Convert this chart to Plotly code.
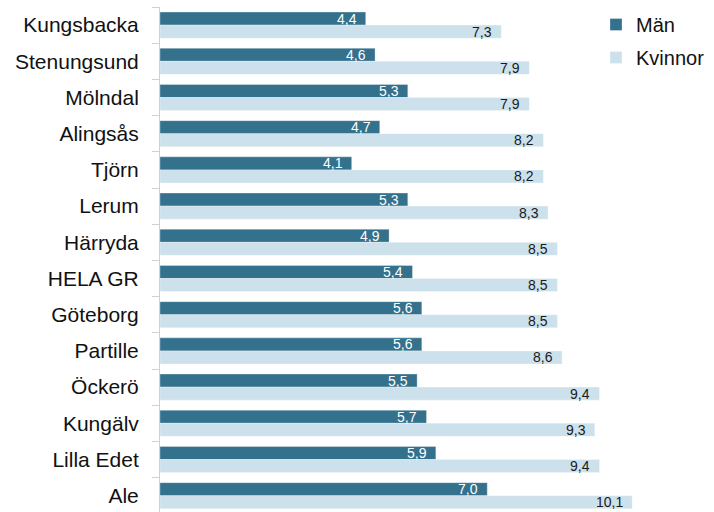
import plotly.graph_objects as go

# Municipalities listed top to bottom
kommuner = ["Kungsbacka", "Stenungsund", "Mölndal", "Alingsås", "Tjörn", "Lerum",
            "Härryda", "HELA GR", "Göteborg", "Partille", "Öckerö", "Kungälv",
            "Lilla Edet", "Ale"]
man = [4.4, 4.6, 5.3, 4.7, 4.1, 5.3, 4.9, 5.4, 5.6, 5.6, 5.5, 5.7, 5.9, 7.0]
kvinnor = [7.3, 7.9, 7.9, 8.2, 8.2, 8.3, 8.5, 8.5, 8.5, 8.6, 9.4, 9.3, 9.4, 10.1]

MAN_COLOR = "#34718D"
KVINNOR_COLOR = "#CCE1EB"
FONT = "Liberation Sans, Arial, sans-serif"


def sv(v):
    return f"{v:.1f}".replace(".", ",")


fig = go.Figure()
fig.add_trace(go.Bar(
    y=kommuner, x=man, orientation="h", name="Män",
    marker=dict(color=MAN_COLOR, line=dict(color="rgba(255,255,255,0.6)", width=0.5)),
    legendgroup="m", hoverinfo="skip",
))
fig.add_trace(go.Bar(
    y=kommuner, x=kvinnor, orientation="h", name="Kvinnor",
    marker=dict(color=KVINNOR_COLOR, line=dict(color="rgba(255,255,255,0.6)", width=0.5)),
    legendgroup="k", hoverinfo="skip",
))

# Value labels just inside the end of each bar
annotations = []
for k, m, w in zip(kommuner, man, kvinnor):
    annotations.append(dict(
        x=m, y=k, xref="x", yref="y", text=sv(m), showarrow=False,
        xanchor="right", yanchor="middle", xshift=-7, yshift=6.5,
        font=dict(family=FONT, size=14, color="white"),
    ))
    annotations.append(dict(
        x=w, y=k, xref="x", yref="y", text=sv(w), showarrow=False,
        xanchor="right", yanchor="middle", xshift=-7, yshift=-6.5,
        font=dict(family=FONT, size=14, color="#1a1a1a"),
    ))

fig.update_layout(
    width=714, height=512,
    margin=dict(l=160, r=0, t=7, b=0, autoexpand=False),
    paper_bgcolor="white", plot_bgcolor="white",
    barmode="group", bargap=0.28, bargroupgap=0,
    font=dict(family=FONT, size=21, color="#111111"),
    annotations=annotations,
    legend=dict(
        x=596 / 714, y=1 - 5 / 512, xanchor="left", yanchor="top",
        xref="container", yref="container",
        font=dict(family=FONT, size=20, color="#111111"),
        tracegroupgap=4, bgcolor="rgba(0,0,0,0)",
    ),
    showlegend=True,
)
fig.update_xaxes(range=[0, 11.85], visible=False, showgrid=False, zeroline=False)
fig.update_yaxes(
    type="category", categoryorder="array", categoryarray=kommuner,
    range=[13.45, -0.5],
    showline=True, linecolor="#d0d0d0", linewidth=1,
    ticks="outside", tickson="boundaries", ticklen=7, tickcolor="#d0d0d0",
    ticklabelstandoff=16, showgrid=False,
    tickfont=dict(family=FONT, size=21, color="#111111"),
)

fig.write_html("out.html")
